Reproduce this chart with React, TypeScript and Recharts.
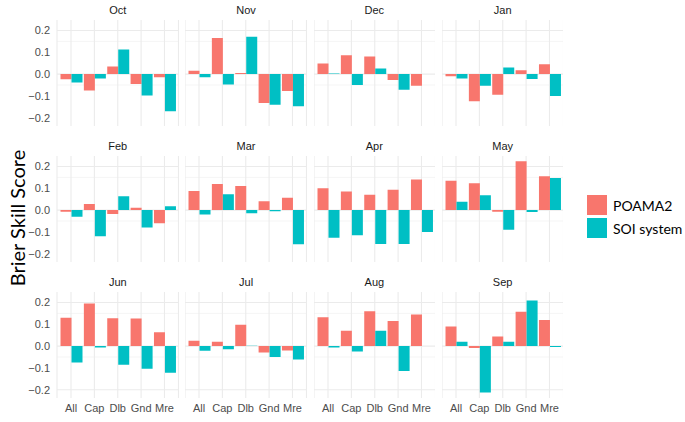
import { Bar, BarChart, CartesianGrid, XAxis, YAxis } from 'recharts';

const categories = ['All', 'Cap', 'Dlb', 'Gnd', 'Mre'];
const months = ['Oct', 'Nov', 'Dec', 'Jan', 'Feb', 'Mar', 'Apr', 'May', 'Jun', 'Jul', 'Aug', 'Sep'];

// one row per month, one value per site (All, Cap, Dlb, Gnd, Mre)
const poama2Scores = [
    [-0.024, -0.075, 0.035, -0.045, -0.015],
    [0.015, 0.165, 0.005, -0.132, -0.077],
    [0.048, 0.086, 0.081, -0.027, -0.053],
    [-0.01, -0.125, -0.095, 0.018, 0.045],
    [-0.008, 0.028, -0.018, 0.011, -0.06],
    [0.087, 0.12, 0.11, 0.04, 0.057],
    [0.1, 0.085, 0.07, 0.093, 0.14],
    [0.134, 0.123, -0.008, 0.224, 0.155],
    [0.13, 0.195, 0.128, 0.127, 0.063],
    [0.025, 0.02, 0.098, -0.029, -0.02],
    [0.132, 0.07, 0.16, 0.115, 0.145],
    [0.09, -0.009, 0.044, 0.158, 0.12],
];

const soiScores = [
    [-0.038, -0.02, 0.113, -0.098, -0.17],
    [-0.015, -0.048, 0.171, -0.14, -0.147],
    [0.003, -0.05, 0.026, -0.072, 0],
    [-0.02, -0.053, 0.03, -0.022, -0.1],
    [-0.03, -0.12, 0.064, -0.08, 0.018],
    [-0.02, 0.073, -0.015, -0.005, -0.157],
    [-0.127, -0.115, -0.155, -0.155, -0.1],
    [0.038, 0.068, -0.09, -0.009, 0.147],
    [-0.075, -0.006, -0.086, -0.104, -0.122],
    [-0.021, -0.015, 0.002, -0.05, -0.062],
    [-0.007, -0.025, 0.07, -0.114, 0],
    [0.02, -0.213, 0.02, 0.209, -0.004],
];

const yTicks = [-0.2, -0.1, 0, 0.1, 0.2];
const minorTicks = [-0.15, -0.05, 0.05, 0.15];
const yDomain: [number, number] = [-0.238, 0.248];

const POAMA_COLOR = '#F8766D';
const SOI_COLOR = '#00BFC4';
const GRID_COLOR = '#EBEBEB';
const SANS = '"Liberation Sans", Arial, sans-serif';

const PLOT_W = 121.5;
const PLOT_H = 106;
const Y_AXIS_W = 40;
const X_AXIS_H = 20;
const X_PAD = PLOT_W / 52; // ggplot's 0.6 unit discrete expansion
const COL_X = [57, 185.3, 313.6, 441.9];
const ROW_Y = [20, 155.8, 291.6];

const formatTick = (v: number) => (v < 0 ? '\u2212' : '') + Math.abs(v).toFixed(1);

const Panel = ({index}: {index: number}) => {
    const col = index % 4;
    const row = Math.floor(index / 4);
    const withY = col === 0;
    const withX = row === 2;
    const data = categories.map((site, i) => ({
        site,
        poama2: poama2Scores[index][i],
        soi: soiScores[index][i],
    }));
    const left = withY ? Y_AXIS_W : 0;

    return (
        <>
            <div style={{
                position: 'absolute',
                left: COL_X[col],
                top: ROW_Y[row] - 18,
                width: PLOT_W,
                textAlign: 'center',
                fontFamily: SANS,
                fontSize: 11,
                lineHeight: '16px',
                color: '#1A1A1A',
            }}>{months[index]}</div>
            <div style={{position: 'absolute', left: COL_X[col] - left, top: ROW_Y[row]}}>
                <BarChart
                    width={PLOT_W + left}
                    height={PLOT_H + (withX ? X_AXIS_H : 0)}
                    data={data}
                    margin={{top: 0, right: 0, bottom: 0, left: 0}}
                    barCategoryGap={'5%'}
                    barGap={0}
                >
                    <CartesianGrid horizontalValues={minorTicks} vertical={false} stroke={GRID_COLOR} strokeWidth={0.55} />
                    <CartesianGrid horizontalValues={yTicks} stroke={GRID_COLOR} strokeWidth={1.1} />
                    <XAxis
                        dataKey={'site'}
                        hide={!withX}
                        height={X_AXIS_H}
                        padding={{left: X_PAD, right: X_PAD}}
                        axisLine={false}
                        tickLine={false}
                        tickSize={4}
                        tickMargin={2}
                        interval={0}
                        tick={{fontSize: 11, fill: '#4D4D4D', fontFamily: SANS}}
                    />
                    <YAxis
                        type={'number'}
                        domain={yDomain}
                        allowDataOverflow
                        ticks={yTicks}
                        hide={!withY}
                        width={Y_AXIS_W}
                        axisLine={false}
                        tickLine={false}
                        tickSize={5}
                        tickMargin={2}
                        tickFormatter={formatTick}
                        tick={{fontSize: 11, fill: '#4D4D4D', fontFamily: SANS}}
                    />
                    <Bar dataKey={'poama2'} fill={POAMA_COLOR} isAnimationActive={false} />
                    <Bar dataKey={'soi'} fill={SOI_COLOR} isAnimationActive={false} />
                </BarChart>
            </div>
        </>
    );
};

export default function App() {
    return (
        <div style={{position: 'absolute', left: 0, top: 0, width: 685, height: 422, background: '#fff', overflow: 'hidden'}}>
            <div style={{
                position: 'absolute',
                left: 17 - 100,
                top: 218 - 14,
                width: 200,
                height: 28,
                lineHeight: '28px',
                textAlign: 'center',
                transform: 'rotate(-90deg)',
                fontFamily: 'Lato, sans-serif',
                fontSize: 20,
                color: '#000',
            }}>Brier Skill Score</div>

            {months.map((m, i) => <Panel key={m} index={i} />)}

            {[{name: 'POAMA2', color: POAMA_COLOR, y: 195}, {name: 'SOI system', color: SOI_COLOR, y: 218}].map(item => (
                <div key={item.name} style={{position: 'absolute', left: 587, top: item.y, height: 20, display: 'flex', alignItems: 'center'}}>
                    <div style={{width: 20, height: 20, background: item.color}} />
                    <span style={{marginLeft: 6, fontFamily: 'Lato, sans-serif', fontSize: 14, color: '#000', whiteSpace: 'nowrap'}}>{item.name}</span>
                </div>
            ))}
        </div>
    );
}
